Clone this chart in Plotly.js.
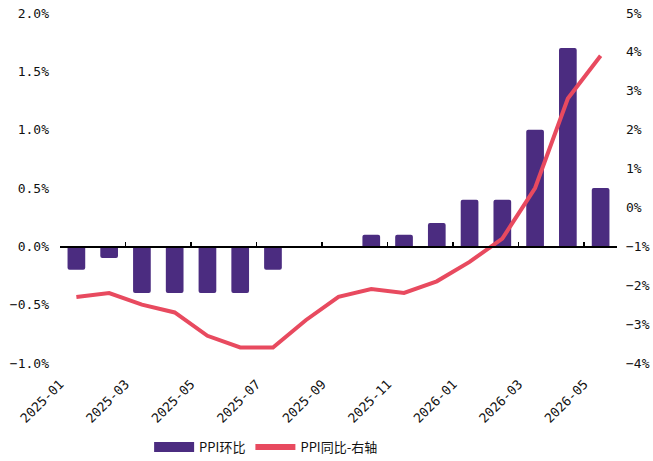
<!DOCTYPE html>
<html><head><meta charset="utf-8">
<script src="https://cdn.plot.ly/plotly-3.0.1.min.js"></script>
<style>html,body{margin:0;padding:0;background:#fff}</style>
</head><body><div id="chart" style="width:653px;height:461px"></div>
<script>
const months = ['2025-01','2025-02','2025-03','2025-04','2025-05','2025-06','2025-07','2025-08','2025-09','2025-10','2025-11','2025-12','2026-01','2026-02','2026-03','2026-04','2026-05'];
const momValues = [-0.2,-0.1,-0.4,-0.4,-0.4,-0.4,-0.2,0.0,0.0,0.1,0.1,0.2,0.4,0.4,1.0,1.7,0.5];
const yoyValues = [-2.3,-2.2,-2.5,-2.7,-3.3,-3.6,-3.6,-2.9,-2.3,-2.1,-2.2,-1.9,-1.4,-0.8,0.5,2.8,3.9];
const momName = 'PPI环比';
const yoyName = 'PPI同比-右轴';

const barColor = '#4B2C80';
const lineColor = '#E84A5F';
const idx = months.map((m, i) => i);
const labelIdx = idx.filter(i => i % 2 === 0);
const boundaries = labelIdx.map(i => i - 0.5);
const tickFont = {family: 'DejaVu Sans Mono, monospace', size: 13, color: '#111'};

const traces = [
  {type: 'bar', x: idx, y: momValues, name: momName, showlegend: false,
   marker: {color: barColor, cornerradius: 2, line: {width: 0}}, width: 0.54,
   xaxis: 'x', yaxis: 'y'},
  {type: 'scatter', mode: 'lines', x: idx, y: yoyValues, name: yoyName, showlegend: false,
   line: {color: lineColor, width: 4}, xaxis: 'x', yaxis: 'y2'},
  {type: 'scatter', mode: 'lines', x: [null], y: [null], name: momName,
   line: {color: barColor, width: 10}, xaxis: 'x2', yaxis: 'y'},
  {type: 'scatter', mode: 'lines', x: [null], y: [null], name: yoyName,
   line: {color: lineColor, width: 6}, xaxis: 'x2', yaxis: 'y'}
];

const layout = {
  width: 653, height: 461,
  margin: {l: 60, r: 36, t: 13, b: 98, autoexpand: false},
  paper_bgcolor: '#fff', plot_bgcolor: '#fff',
  showlegend: true,
  legend: {orientation: 'h', x: 0.16, xanchor: 'left', y: -0.24, yanchor: 'middle',
           font: {family: 'Noto Sans CJK SC', size: 13, color: '#111'}, itemwidth: 40, tracegroupgap: 0},
  xaxis: {range: [-0.5, 16.5], tickvals: labelIdx.map(i => i - 0.5), ticktext: labelIdx.map(i => months[i]),
          tickangle: -45, showgrid: false, zeroline: false, showline: false, ticks: '',
          ticklabelstandoff: 10, automargin: false, tickfont: tickFont},
  xaxis2: {overlaying: 'x', anchor: 'free', position: 1/3, range: [-0.5, 16.5],
           tickvals: boundaries, ticks: 'inside', ticklen: 4, tickwidth: 1.5, tickcolor: '#000',
           showline: true, linecolor: '#000', linewidth: 1.5, showticklabels: false,
           showgrid: false, zeroline: false},
  yaxis: {range: [-1, 2], dtick: 0.5, tickformat: '.1f', ticksuffix: '%', showgrid: false,
          zeroline: false, showline: false, ticklabelstandoff: 10, automargin: false, tickfont: tickFont},
  yaxis2: {overlaying: 'y', side: 'right', range: [-4, 5], dtick: 1, ticksuffix: '%',
           showgrid: false, zeroline: false, showline: false, ticklabelstandoff: 8, automargin: false, tickfont: tickFont}
};

Plotly.newPlot('chart', traces, layout, {displayModeBar: false, staticPlot: true});
</script></body></html>
